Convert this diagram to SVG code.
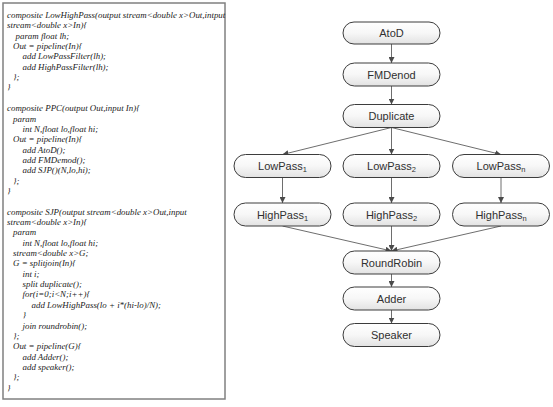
<svg xmlns="http://www.w3.org/2000/svg" width="553" height="407" viewBox="0 0 553 407">
<style>
.code{font-family:"Liberation Serif","Times New Roman",serif;font-style:italic;font-size:8.9px;fill:#1a1a1a}
.node rect{fill:url(#g);stroke:#3c3c3c;stroke-width:1}
.node text{font-family:"Liberation Sans",Arial,sans-serif;font-size:11px;fill:#303030;text-anchor:middle}
.sub{font-size:7.5px}
.conn line{stroke:#6e6e6e;stroke-width:1;marker-end:url(#ah)}
</style>
<defs>
<linearGradient id="g" x1="0" y1="0" x2="0" y2="1">
<stop offset="0" stop-color="#ffffff"/>
<stop offset="0.5" stop-color="#f7f7f7"/>
<stop offset="1" stop-color="#e2e2e2"/>
</linearGradient>
<marker id="ah" viewBox="0 0 10 10" refX="10" refY="5" markerWidth="6" markerHeight="6" orient="auto" markerUnits="userSpaceOnUse">
<path d="M0,0 L10,5 L0,10 z" fill="#4a4a4a"/>
</marker>
</defs>
<rect x="3" y="3" width="222" height="396" fill="#ffffff" stroke="#808080" stroke-width="1.5"/>
<g id="code" class="code">
<text x="7" y="18">composite LowHighPass(output stream&lt;double x&gt;Out,intput</text>
<text x="7" y="28.35">stream&lt;double x&gt;In){</text>
<text x="15.5" y="38.7">param float lh;</text>
<text x="13" y="49.05">Out = pipeline(In){</text>
<text x="22.5" y="59.4">add LowPassFilter(lh);</text>
<text x="22.5" y="69.75">add HighPassFilter(lh);</text>
<text x="13" y="80.1">};</text>
<text x="7" y="90.45">}</text>
<text x="7" y="111.15">composite PPC(output Out,input In){</text>
<text x="13" y="121.5">param</text>
<text x="22.5" y="131.85">int N,float lo,float hi;</text>
<text x="13" y="142.2">Out = pipeline(In){</text>
<text x="22.5" y="152.55">add AtoD();</text>
<text x="22.5" y="162.9">add FMDemod();</text>
<text x="22.5" y="173.25">add SJP()(N,lo,hi);</text>
<text x="13" y="183.6">};</text>
<text x="7" y="193.95">}</text>
<text x="7" y="214.65">composite SJP(output stream&lt;double x&gt;Out,input</text>
<text x="7" y="225">stream&lt;double x&gt;In){</text>
<text x="13" y="235.35">param</text>
<text x="22.5" y="245.7">int N,float lo,float hi;</text>
<text x="13" y="256.05">stream&lt;double x&gt;G;</text>
<text x="13" y="266.4">G = splitjoin(In){</text>
<text x="22.5" y="276.75">int i;</text>
<text x="22.5" y="287.1">split duplicate();</text>
<text x="22.5" y="297.45">for(i=0;i&lt;N;i++){</text>
<text x="31.5" y="307.8">add LowHighPass(lo + i*(hi-lo)/N);</text>
<text x="22.5" y="318.15">}</text>
<text x="22.5" y="328.5">join roundrobin();</text>
<text x="13" y="338.85">};</text>
<text x="13" y="349.2">Out = pipeline(G){</text>
<text x="22.5" y="359.55">add Adder();</text>
<text x="22.5" y="369.9">add speaker();</text>
<text x="13" y="380.25">};</text>
<text x="7" y="390.6">}</text>
</g>
<g id="connectors" class="conn">
<line x1="391.5" y1="44" x2="391.5" y2="63"/>
<line x1="391.5" y1="86" x2="391.5" y2="104.5"/>
<line x1="391.5" y1="127.5" x2="282.5" y2="154.5"/>
<line x1="391.5" y1="127.5" x2="391.5" y2="154.5"/>
<line x1="391.5" y1="127.5" x2="501" y2="154.5"/>
<line x1="282.5" y1="177.5" x2="282.5" y2="203"/>
<line x1="391.5" y1="177.5" x2="391.5" y2="203"/>
<line x1="501" y1="177.5" x2="501" y2="203"/>
<line x1="282.5" y1="226" x2="391.5" y2="251"/>
<line x1="391.5" y1="226" x2="391.5" y2="251"/>
<line x1="501" y1="226" x2="391.5" y2="251"/>
<line x1="391.5" y1="274" x2="391.5" y2="287"/>
<line x1="391.5" y1="310" x2="391.5" y2="323.5"/>
</g>
<g id="AtoD" class="node"><rect x="343" y="22" width="97" height="22" rx="11"/><text x="391.5" y="37">AtoD</text></g>
<g id="FMDenod" class="node"><rect x="343" y="63" width="97" height="23" rx="11.5"/><text x="391.5" y="78.5">FMDenod</text></g>
<g id="Duplicate" class="node"><rect x="343" y="104.5" width="97" height="23" rx="11.5"/><text x="391.5" y="120">Duplicate</text></g>
<g id="LowPass1" class="node"><rect x="234" y="154.5" width="97" height="23" rx="11.5"/><text x="282.5" y="170">LowPass<tspan class="sub" dy="2">1</tspan></text></g>
<g id="LowPass2" class="node"><rect x="343" y="154.5" width="97" height="23" rx="11.5"/><text x="391.5" y="170">LowPass<tspan class="sub" dy="2">2</tspan></text></g>
<g id="LowPassn" class="node"><rect x="452.5" y="154.5" width="97" height="23" rx="11.5"/><text x="501" y="170">LowPass<tspan class="sub" dy="2">n</tspan></text></g>
<g id="HighPass1" class="node"><rect x="234" y="203" width="97" height="23" rx="11.5"/><text x="282.5" y="218.5">HighPass<tspan class="sub" dy="2">1</tspan></text></g>
<g id="HighPass2" class="node"><rect x="343" y="203" width="97" height="23" rx="11.5"/><text x="391.5" y="218.5">HighPass<tspan class="sub" dy="2">2</tspan></text></g>
<g id="HighPassn" class="node"><rect x="452.5" y="203" width="97" height="23" rx="11.5"/><text x="501" y="218.5">HighPass<tspan class="sub" dy="2">n</tspan></text></g>
<g id="RoundRobin" class="node"><rect x="343" y="251" width="97" height="23" rx="11.5"/><text x="391.5" y="266.5">RoundRobin</text></g>
<g id="Adder" class="node"><rect x="343" y="287" width="97" height="23" rx="11.5"/><text x="391.5" y="302.5">Adder</text></g>
<g id="Speaker" class="node"><rect x="343" y="323.5" width="97" height="23" rx="11.5"/><text x="391.5" y="339">Speaker</text></g>
</svg>
